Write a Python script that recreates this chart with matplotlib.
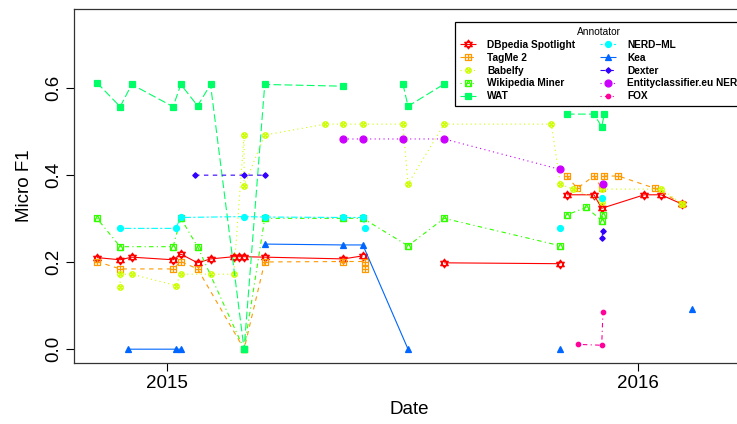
import numpy as np
import pandas as pd
import matplotlib
matplotlib.use('Agg')
import matplotlib.pyplot as plt
import matplotlib.dates as mdates
from matplotlib.path import Path

plt.rcParams['font.family'] = ['Liberation Sans', 'DejaVu Sans']

# None in both lists = a break in the line
dbpedia_dates = ['2014-11-08', '2014-11-26', '2014-12-05', '2015-01-06', '2015-01-12', '2015-01-25',
                 '2015-02-04', '2015-02-22', '2015-02-26', '2015-03-02', '2015-03-18', '2015-05-18',
                 '2015-06-02', None, '2015-08-04', '2015-11-02', None, '2015-11-07', '2015-11-28',
                 '2015-12-04', '2016-01-06', '2016-01-19', '2016-02-04']
dbpedia_f1 = [0.210, 0.205, 0.211, 0.205, 0.218, 0.198, 0.207, 0.212, 0.212, 0.212, 0.211, 0.207,
              0.214, None, 0.198, 0.196, None, 0.354, 0.354, 0.323, 0.354, 0.354, 0.333]

tagme_dates = ['2014-11-08', '2014-11-26', '2015-01-06', '2015-01-12', '2015-01-25', '2015-03-02',
               '2015-03-18', '2015-05-18', '2015-06-04', '2015-06-04', None, '2015-11-07',
               '2015-11-15', '2015-11-28', '2015-12-04', '2015-12-06', '2015-12-17', '2016-01-14',
               '2016-02-04']
tagme_f1 = [0.201, 0.184, 0.184, 0.201, 0.184, 0.0, 0.200, 0.201, 0.201, 0.183, None, 0.397,
            0.369, 0.397, 0.369, 0.397, 0.397, 0.369, 0.334]

babelfy_dates = ['2014-11-26', '2014-11-26', '2014-12-05', '2015-01-08', '2015-01-12', '2015-02-04',
                 '2015-02-22', '2015-03-02', '2015-03-02', '2015-03-18', '2015-05-04', '2015-05-18',
                 '2015-06-02', '2015-07-03', '2015-07-07', '2015-08-04', '2015-10-26', '2015-11-02',
                 '2015-11-12', '2015-12-04', '2015-12-04', '2016-01-19', '2016-02-04']
babelfy_f1 = [0.142, 0.172, 0.172, 0.146, 0.172, 0.172, 0.172, 0.491, 0.375, 0.491, 0.516, 0.516,
              0.516, 0.516, 0.379, 0.516, 0.516, 0.378, 0.367, 0.338, 0.367, 0.367, 0.334]

wikiminer_dates = ['2014-11-08', '2014-11-26', '2015-01-06', '2015-01-12', '2015-01-25', '2015-03-02',
                   '2015-03-18', '2015-05-18', '2015-06-02', '2015-07-07', '2015-08-04', '2015-11-02',
                   None, '2015-11-07', '2015-11-22', '2015-12-04', '2015-12-05']
wikiminer_f1 = [0.300, 0.235, 0.235, 0.300, 0.235, 0.0, 0.300, 0.300, 0.300, 0.237, 0.300, 0.237,
                None, 0.308, 0.325, 0.295, 0.308]

wat_dates = ['2014-11-08', '2014-11-26', '2014-12-05', '2015-01-06', '2015-01-12', '2015-01-25',
             '2015-02-04', '2015-03-02', '2015-03-18', '2015-05-18', None, '2015-07-03', '2015-07-07',
             '2015-08-04', None, '2015-11-07', '2015-11-28', '2015-12-04', '2015-12-06']
wat_f1 = [0.611, 0.556, 0.607, 0.556, 0.607, 0.558, 0.607, 0.0, 0.607, 0.603, None, 0.608, 0.557,
          0.608, None, 0.539, 0.539, 0.510, 0.539]

nerdml_dates = ['2014-11-26', '2015-01-08', '2015-01-12', '2015-03-02', '2015-03-18', '2015-05-18',
                '2015-06-02', '2015-06-04', None, '2015-11-02', None, '2015-12-04']
nerdml_f1 = [0.277, 0.277, 0.302, 0.304, 0.303, 0.302, 0.302, 0.277, None, 0.277, None, 0.346]

kea_dates = ['2014-12-02', '2015-01-08', '2015-01-12', None, '2015-03-18', '2015-05-18', '2015-06-02',
             '2015-07-07', None, '2015-11-02', None, '2016-02-12']
kea_f1 = [0.0, 0.0, 0.0, None, 0.241, 0.239, 0.239, 0.0, None, 0.0, None, 0.092]

dexter_dates = ['2015-01-23', '2015-03-02', '2015-03-18', None, '2015-12-05', '2015-12-04']
dexter_f1 = [0.399, 0.399, 0.399, None, 0.271, 0.254]

entity_dates = ['2015-05-18', '2015-06-02', '2015-07-03', '2015-08-04', '2015-11-02', None, '2015-12-05']
entity_f1 = [0.482, 0.482, 0.482, 0.482, 0.412, None, 0.379]

fox_dates = ['2015-11-16', '2015-12-04', '2015-12-05']
fox_f1 = [0.011, 0.009, 0.086]

names = ['DBpedia Spotlight', 'TagMe 2', 'Babelfy', 'Wikipedia Miner', 'WAT',
         'NERD\u2212ML', 'Kea', 'Dexter', 'Entityclassifier.eu NER', 'FOX']
all_dates = [dbpedia_dates, tagme_dates, babelfy_dates, wikiminer_dates, wat_dates,
             nerdml_dates, kea_dates, dexter_dates, entity_dates, fox_dates]
all_f1 = [dbpedia_f1, tagme_f1, babelfy_f1, wikiminer_f1, wat_f1,
          nerdml_f1, kea_f1, dexter_f1, entity_f1, fox_f1]

# R rainbow(10), lty 1..6 recycled, pch 11..20
colors = ['#FF0000', '#FF9900', '#CCFF00', '#33FF00', '#00FF66',
          '#00FFFF', '#0066FF', '#3300FF', '#CC00FF', '#FF0099']
ltys = [(0, ()), (0, (4, 4)), (0, (1, 3)), (0, (1, 3, 4, 3)), (0, (7, 3)), (0, (2, 2, 6, 2))]
ltys = [ltys[i % 6] for i in range(10)]

M, L, C = Path.MOVETO, Path.LINETO, Path.CLOSEPOLY
tri_up = Path([(0, 1), (-0.866, -0.5), (0.866, -0.5), (0, 1)], [M, L, L, C])
tri_dn = Path([(0, -1), (-0.866, 0.5), (0.866, 0.5), (0, -1)], [M, L, L, C])
square = Path([(-1, -1), (1, -1), (1, 1), (-1, 1), (-1, -1)], [M, L, L, L, C])
plus = Path([(-1, 0), (1, 0), (0, -1), (0, 1)], [M, L, M, L])
xcross = Path([(-0.707, -0.707), (0.707, 0.707), (-0.707, 0.707), (0.707, -0.707)], [M, L, M, L])
in_tri = Path([(0, 1), (-1, -1), (1, -1), (0, 1)], [M, L, L, C])

markers = [Path.make_compound_path(tri_up, tri_dn),
           Path.make_compound_path(square, plus),
           Path.make_compound_path(Path.unit_circle(), xcross),
           Path.make_compound_path(square, in_tri),
           's', 'o', '^', 'D', 'o', 'o']
msizes = [6.3, 4.0, 4.0, 4.3, 4.1, 4.3, 5.0, 2.8, 5.0, 3.2]
filled = [False, False, False, False, True, True, True, True, True, True]

fig = plt.figure(figsize=(7.37, 4.24), dpi=100)
ax = fig.add_axes([74 / 737, (424 - 362.7) / 424, (745 - 74) / 737, (362.7 - 9) / 424])

for i in range(10):
    xs = [mdates.date2num(pd.Timestamp(d)) if d is not None else np.nan for d in all_dates[i]]
    ys = [v if v is not None else np.nan for v in all_f1[i]]
    ax.plot(xs, ys, color=colors[i], linestyle=ltys[i], linewidth=0.8,
            marker=markers[i], markersize=msizes[i], markeredgewidth=0.9,
            markerfacecolor=colors[i] if filled[i] else 'none',
            markeredgecolor=colors[i], label=names[i])

ax.set_xlim(mdates.date2num(pd.Timestamp('2014-10-21 06:00')),
            mdates.date2num(pd.Timestamp('2016-03-24')))
ax.set_ylim(-0.031, 0.78)
ax.xaxis.set_major_locator(mdates.YearLocator())
ax.xaxis.set_major_formatter(mdates.DateFormatter('%Y'))
ax.set_yticks([0.0, 0.2, 0.4, 0.6])
ax.set_yticklabels(['0.0', '0.2', '0.4', '0.6'], rotation=90, va='center')
ax.tick_params(direction='out', length=5.5, width=0.8, labelsize=13.5, pad=3)
for s in ax.spines.values():
    s.set_linewidth(0.9)
    s.set_color('#333333')

ax.set_xlabel('Date', fontsize=13.5, labelpad=7)
ax.set_ylabel('Micro F1', fontsize=13.5, labelpad=9)

leg = ax.legend(ncol=2, title='Annotator', fontsize=7.3, title_fontsize=7.3,
                loc='upper left', bbox_to_anchor=(455 / 737, 1 - 22 / 424),
                bbox_transform=fig.transFigure, frameon=True, fancybox=False,
                edgecolor='black', framealpha=1, borderaxespad=0,
                handlelength=1.6, handletextpad=1.1, columnspacing=2.4,
                labelspacing=0.28, borderpad=0.5)
leg.get_frame().set_linewidth(0.9)
for t in leg.get_texts():
    t.set_fontweight('bold')

fig.savefig('out.png', dpi=100)
